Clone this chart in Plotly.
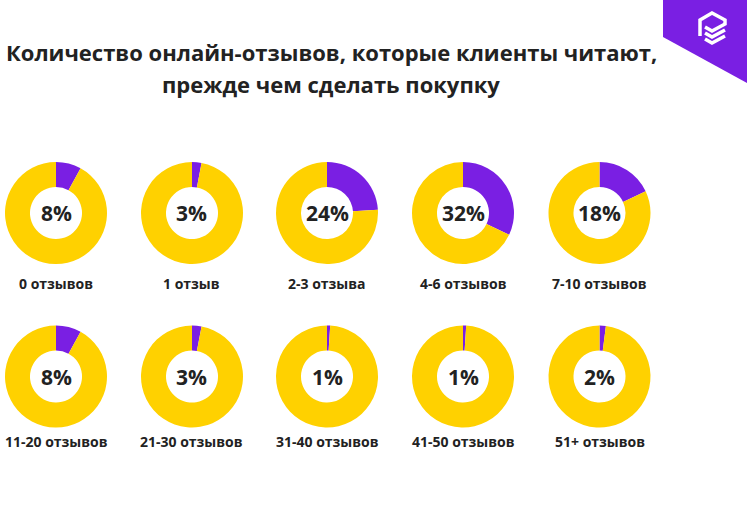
import plotly.graph_objects as go

categories = ["0 отзывов", "1 отзыв", "2-3 отзыва", "4-6 отзывов", "7-10 отзывов",
              "11-20 отзывов", "21-30 отзывов", "31-40 отзывов", "41-50 отзывов", "51+ отзывов"]
shares = [8, 3, 24, 32, 18, 8, 3, 1, 1, 2]
pct_labels = ["8%", "3%", "24%", "32%", "18%", "8%", "3%", "1%", "1%", "2%"]
title_lines = ["Количество онлайн-отзывов, которые клиенты читают,", "прежде чем сделать покупку"]

W, H = 747, 509
YELLOW = "#FFD100"
PURPLE = "#7A1FE3"
TEXT = "#222222"
FONT = "Open Sans, Inter, sans-serif"

col_x = [56, 192, 327, 463, 599.5]
row_y = [213, 376.5]
R = 51

fig = go.Figure()
annotations = []
for i, (cat, v, lab) in enumerate(zip(categories, shares, pct_labels)):
    cx = col_x[i % 5]
    cy = row_y[i // 5]
    dom_x = [(cx - R) / W, (cx + R) / W]
    dom_y = [1 - (cy + R) / H, 1 - (cy - R) / H]
    fig.add_trace(go.Pie(
        values=[v, 100 - v],
        labels=["да", "нет"],
        marker=dict(colors=[PURPLE, YELLOW], line=dict(width=0)),
        hole=0.51,
        sort=False,
        direction="clockwise",
        rotation=0,
        textinfo="none",
        hoverinfo="none",
        showlegend=False,
        domain=dict(x=dom_x, y=dom_y),
    ))
    annotations.append(dict(
        x=cx / W, y=1 - cy / H, xref="paper", yref="paper",
        text=lab, showarrow=False,
        font=dict(family=FONT, size=21, color=TEXT, weight=700),
        xanchor="center", yanchor="middle",
    ))
    ly = 283 if i < 5 else 441
    annotations.append(dict(
        x=cx / W, y=1 - ly / H, xref="paper", yref="paper",
        text=cat, showarrow=False,
        font=dict(family=FONT, size=14, color=TEXT, weight=700),
        xanchor="center", yanchor="middle",
    ))

for line, anchor in zip(title_lines, ["bottom", "top"]):
    annotations.append(dict(
        x=331 / W, y=1 - 68 / H, xref="paper", yref="paper",
        text=line, showarrow=False, align="center", borderpad=0,
        font=dict(family=FONT, size=22, color=TEXT, weight=700),
        xanchor="center", yanchor=anchor,
    ))

def px(x, y):
    return x / W, 1 - y / H

# purple corner logo background
pts = [(663, 0), (747, 0), (747, 83), (663, 37)]
path = "M " + " L ".join(f"{px(x,y)[0]},{px(x,y)[1]}" for x, y in pts) + " Z"
shapes = [dict(type="path", xref="paper", yref="paper", path=path,
               fillcolor=PURPLE, line=dict(width=0), layer="above")]
# simple white icon
icon_lines = [
    [(700, 36), (700, 20), (712, 13), (725, 20), (725, 24), (712, 31), (705, 27)],
    [(705, 33), (712, 37), (725, 30)],
    [(705, 39), (712, 43), (725, 36)],
]
for seg in icon_lines:
    p = "M " + " L ".join(f"{px(x,y)[0]},{px(x,y)[1]}" for x, y in seg)
    shapes.append(dict(type="path", xref="paper", yref="paper", path=p,
                       line=dict(color="white", width=3.5), layer="above"))

fig.update_layout(
    width=W, height=H,
    margin=dict(l=0, r=0, t=0, b=0),
    paper_bgcolor="white", plot_bgcolor="white",
    annotations=annotations, shapes=shapes,
)
fig.write_html("out.html", config={"displayModeBar": False},
               post_script="document.body.style.margin='0';document.body.style.overflow='hidden';")
